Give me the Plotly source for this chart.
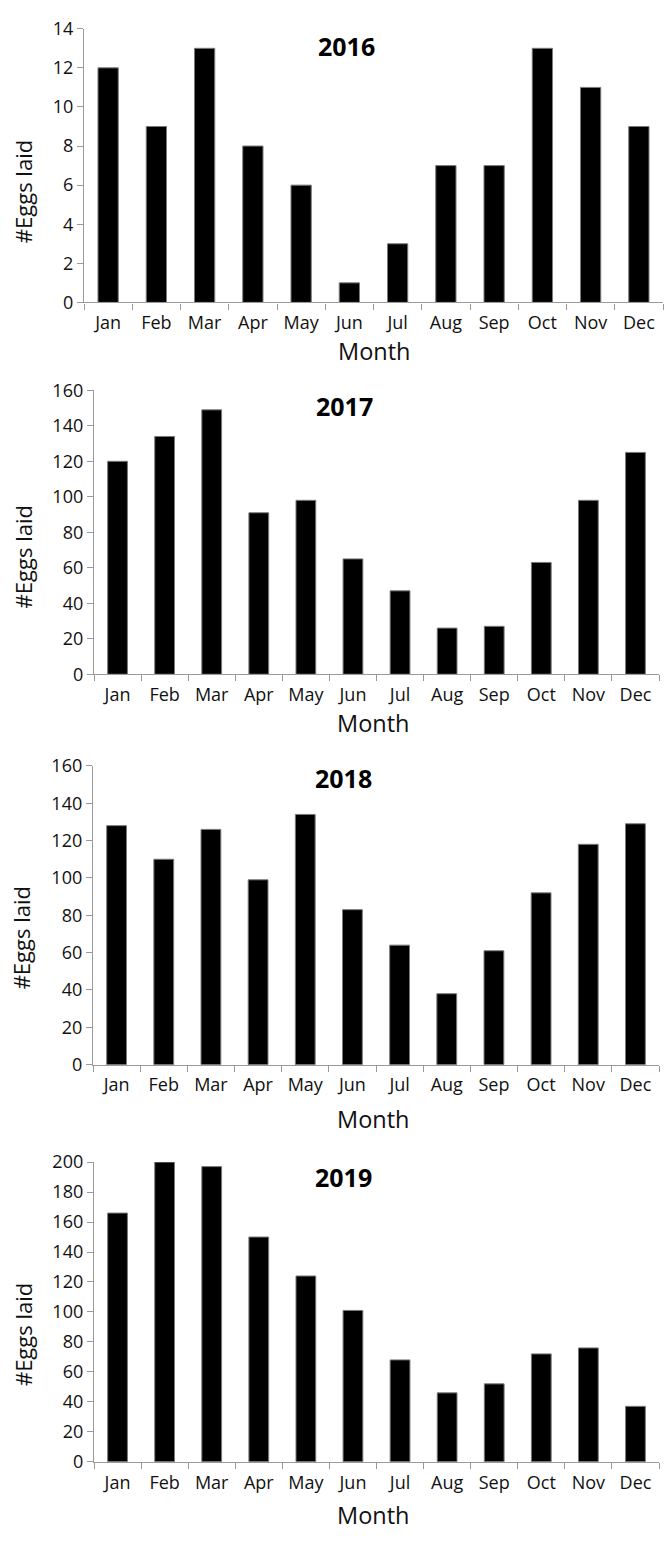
import plotly.graph_objects as go

months = ["Jan", "Feb", "Mar", "Apr", "May", "Jun", "Jul", "Aug", "Sep", "Oct", "Nov", "Dec"]
years = ["2016", "2017", "2018", "2019"]
eggs_2016 = [12, 9, 13, 8, 6, 1, 3, 7, 7, 13, 11, 9]
eggs_2017 = [120, 134, 149, 91, 98, 65, 47, 26, 27, 63, 98, 125]
eggs_2018 = [128, 110, 126, 99, 134, 83, 64, 38, 61, 92, 118, 129]
eggs_2019 = [166, 200, 197, 150, 124, 101, 68, 46, 52, 72, 76, 37]
y_max = [14, 160, 160, 200]
y_dtick = [2, 20, 20, 20]
series = [eggs_2016, eggs_2017, eggs_2018, eggs_2019]

W, H = 664, 1541
# pixel layout: (x_left, x_right, y_top, y_bottom)
boxes = [(84, 663, 16, 294), (94, 659, 383.3, 671.7), (93, 659, 764.8, 1068.3), (94, 659, 1167.3, 1471.7)]
title_pos = [(346, 34), (344, 399), (343, 777.5), (343, 1182.5)]
ytitle_pos = [(23, 182), (23, 553), (21, 940), (23, 1343)]
xtitle_pos = [(374, 343), (373, 721), (373, 1123), (373, 1526)]

FONT = "Open Sans"
AX = "#9a9a9a"

fig = go.Figure()
layout = dict(width=W, height=H, margin=dict(l=0, r=0, t=0, b=0),
              paper_bgcolor="white", plot_bgcolor="white", showlegend=False,
              font=dict(family=FONT, color="#111"), bargap=0.58)
annotations = []
for i, (yr, vals) in enumerate(zip(years, series)):
    n = "" if i == 0 else str(i + 1)
    xl, xr, yt, yb = boxes[i]
    fig.add_trace(go.Bar(x=months, y=vals, xaxis="x" + n, yaxis="y" + n,
                         marker=dict(color="black", line=dict(color="#7a7a7a", width=1))))
    layout["xaxis" + n] = dict(domain=[xl / W, xr / W], anchor="y" + n, type="category",
                               range=[-0.5, 11.5], showline=True, linecolor=AX, linewidth=1.3,
                               ticks="outside", tickson="boundaries", ticklen=6, tickcolor=AX,
                               tickwidth=1.3, showgrid=False, zeroline=False,
                               tickfont=dict(size=18, family=FONT, color="#111"),
                               ticklabelstandoff=4)
    layout["yaxis" + n] = dict(domain=[1 - yb / H, 1 - yt / H], anchor="x" + n,
                               range=[0, y_max[i]], dtick=y_dtick[i], showline=True,
                               linecolor=AX, linewidth=1.3, ticks="outside", ticklen=6,
                               tickcolor=AX, tickwidth=1.3, showgrid=False, zeroline=False,
                               tickfont=dict(size=18, family=FONT, color="#111"))
    tx, ty = title_pos[i]
    annotations.append(dict(text="<b>" + yr + "</b>", x=tx / W, y=1 - ty / H, xref="paper",
                            yref="paper", showarrow=False, xanchor="center", yanchor="middle",
                            font=dict(size=25, family=FONT, color="#000")))
    ax_, ay_ = ytitle_pos[i]
    annotations.append(dict(text="#Eggs laid", x=ax_ / W, y=1 - ay_ / H, xref="paper",
                            yref="paper", showarrow=False, xanchor="center", yanchor="middle",
                            textangle=-90, font=dict(size=22, family=FONT, color="#111")))
    mx, my = xtitle_pos[i]
    annotations.append(dict(text="Month", x=mx / W, y=1 - my / H, xref="paper",
                            yref="paper", showarrow=False, xanchor="center", yanchor="middle",
                            font=dict(size=23.5, family=FONT, color="#111")))
layout["annotations"] = annotations
fig.update_layout(**layout)
fig.write_html("out.html", config={"displayModeBar": False},
               post_script="document.body.style.margin='0';document.body.style.overflow='hidden';")
